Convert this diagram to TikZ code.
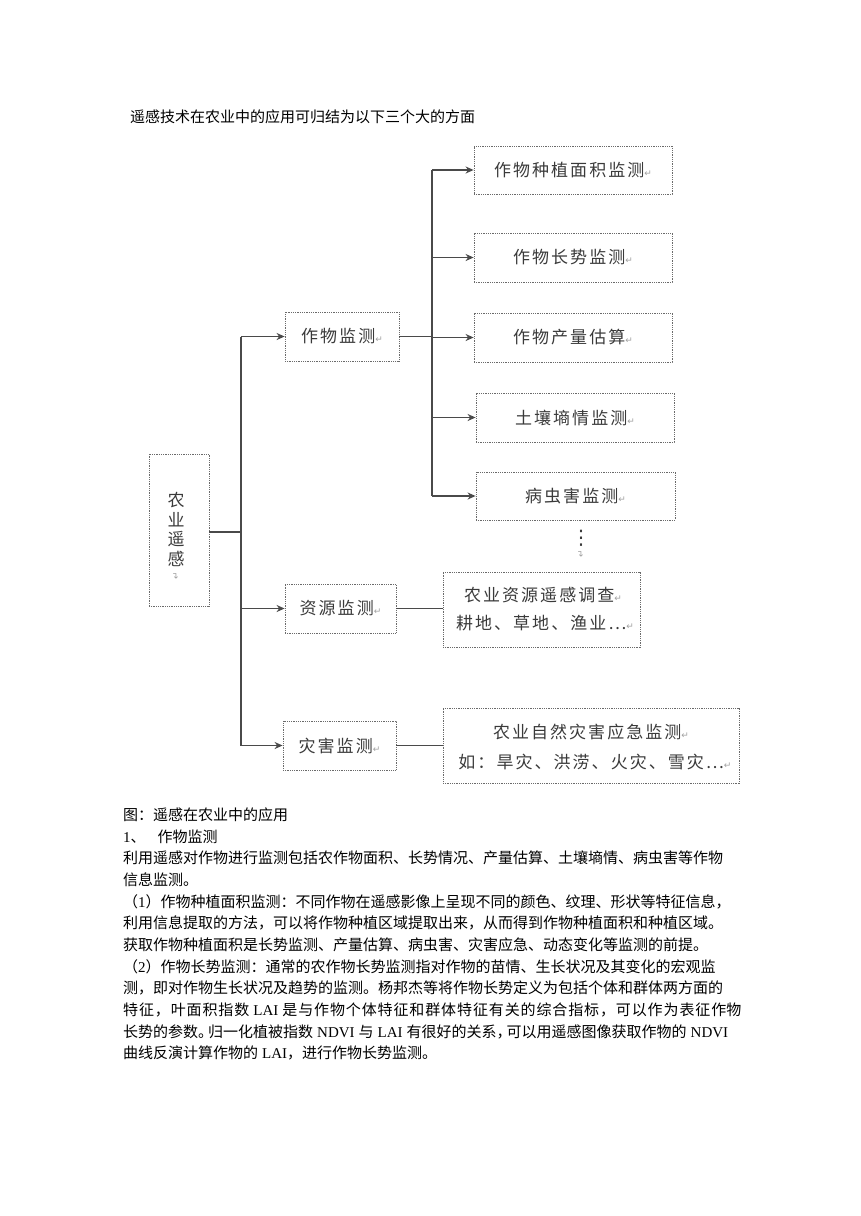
\documentclass[tikz,border=0pt]{standalone}
\usepackage{fontspec}
\setmainfont{Liberation Serif}
\newfontfamily\cjk{Noto Sans CJK SC}
\newfontfamily\cjkbox[LetterSpace=12]{Noto Sans CJK SC}
\newfontfamily\cjkwide[LetterSpace=5.9]{Noto Sans CJK SC}
\newfontfamily\dv{DejaVu Sans}
\usetikzlibrary{arrows.meta}
\definecolor{linegray}{HTML}{4A4A4A}
\definecolor{boxgray}{HTML}{6A6A6A}
\definecolor{txtgray}{HTML}{3A3A3A}
\definecolor{markgray}{HTML}{A0A0A0}
\newcommand\retmark{{\dv\fontsize{9}{9}\selectfont\textcolor{markgray}{↵}}}
\newcommand\en[1]{{\rmfamily #1}}
\newcommand\enw[1]{\hspace{4pt}{\rmfamily #1}\hspace{4pt}}
\newcommand\boxfont{\cjkbox\fontsize{17}{17}\selectfont}
\newcommand\bodyfont{\cjk\fontsize{15}{15}\selectfont}
\newcommand\jl[1]{\hbox to 605pt{#1}}
\begin{document}
\begin{tikzpicture}[x=1pt,y=-1pt,
  box/.style={draw=boxgray, dash pattern=on 0.9pt off 0.9pt, line width=0.8pt, inner sep=0pt, text=txtgray, font=\boxfont},
  conn/.style={draw=linegray, line width=1.4pt},
  arr/.style={conn, -{Stealth[length=8pt,width=7pt,inset=2.5pt]}},
  lbl/.style={inner sep=0pt, text=txtgray, font=\boxfont},
  body/.style={anchor=base west, inner sep=0pt, font=\bodyfont, text=black}
]
\useasboundingbox (0,0) rectangle (860,1216);

% heading
\node[body] (head) at (130,122.7) {遥感技术在农业中的应用可归结为以下三个大的方面};

% boxes
\node[box, minimum width=60, minimum height=152] (root) at (179,530) {};
\node[lbl] (r1c) at (176,500) {农};
\node[lbl] (r2c) at (176,519.5) {业};
\node[lbl] (r3c) at (176,539) {遥};
\node[lbl] (r4c) at (176,558.5) {感};
\node[lbl, rotate=90] (r5c) at (176,576) {\retmark};

\node[box, minimum width=114, minimum height=49] (crop) at (342,336.5) {作物监测\retmark};
\node[box, minimum width=111, minimum height=49] (res) at (340.5,608.5) {资源监测\retmark};
\node[box, minimum width=113, minimum height=49] (dis) at (339.5,745.5) {灾害监测\retmark};

\node[box, minimum width=198, minimum height=48] (b1) at (573,170) {作物种植面积监测\retmark};
\node[box, minimum width=198, minimum height=49] (b2) at (573,257.5) {作物长势监测\retmark};
\node[box, minimum width=198, minimum height=49] (b3) at (573,337.5) {作物产量估算\retmark};
\node[box, minimum width=198, minimum height=49] (b4) at (575,417.5) {土壤墒情监测\retmark};
\node[box, minimum width=199, minimum height=48] (b5) at (575.5,496) {病虫害监测\retmark};

\node[inner sep=0pt, text=txtgray, font=\dv\fontsize{20}{20}\selectfont] (dots) at (581,538) {⋮};
\node[lbl, rotate=90] (dmark) at (581,554) {\retmark};

\node[box, minimum width=197, minimum height=75] (rr1) at (541.5,609.5) {};
\node[lbl] (rr1a) at (543,595) {农业资源遥感调查\retmark};
\node[lbl] (rr1b) at (545,623) {耕地、草地、渔业…\retmark};

\node[box, minimum width=296, minimum height=75] (rr2) at (591,745.5) {};
\node[lbl] (rr2a) at (591,731.7) {农业自然灾害应急监测\retmark};
\node[lbl] (rr2b) at (595,761.7) {如：旱灾、洪涝、火灾、雪灾…\retmark};

% connectors
\coordinate (j1) at (241,532);
\coordinate (jt) at (241,336.5);
\coordinate (jb) at (241,745.5);
\coordinate (vt) at (432,170);
\coordinate (vb) at (432,496);
\draw[conn] (root.east |- j1) -- (j1);
\draw[conn] (jt) -- (jb);
\draw[arr] (jt) -- (crop.west);
\draw[arr] (res.west -| jt) -- (res.west);
\draw[arr] (jb) -- (dis.west);
\draw[conn] (crop.east) -- (crop.east -| vt);
\draw[conn] (vt) -- (vb);
\foreach \b in {b1,b2,b3,b4,b5}{
  \draw[arr] (\b.west -| vt) -- (\b.west);
}
\draw[conn] (res.east) -- (res.east -| rr1.west);
\draw[conn] (dis.east) -- (dis.east -| rr2.west);

% body text
\node[body] (t1) at (123,820.5) {图：遥感在农业中的应用};
\node[body] (t2) at (123,842.2) {\en{1}、\hspace{12pt}作物监测};
\node[body] (t3) at (123,863.8) {\jl{利用遥感对作物进行监测包括农作物面积、长势情况、产量估算、土壤墒情、病虫害等作物}};
\node[body] (t4) at (123,885.5) {信息监测。};
\node[body] (t5) at (123,907.2) {\jl{（\en{1}）作物种植面积监测：不同作物在遥感影像上呈现不同的颜色、纹理、形状等特征信息，}};
\node[body] (t6) at (123,928.8) {\jl{利用信息提取的方法，可以将作物种植区域提取出来，从而得到作物种植面积和种植区域。}};
\node[body] (t7) at (123,950.5) {获取作物种植面积是长势监测、产量估算、病虫害、灾害应急、动态变化等监测的前提。};
\node[body] (t8) at (123,972.2) {\jl{（\en{2}）作物长势监测：通常的农作物长势监测指对作物的苗情、生长状况及其变化的宏观监}};
\node[body] (t9) at (123,993.8) {\jl{测，即对作物生长状况及趋势的监测。杨邦杰等将作物长势定义为包括个体和群体两方面的}};
\node[body] (t10) at (123,1015.5) {\jl{\cjkwide 特征，叶面积指数\enw{LAI}是与作物个体特征和群体特征有关的综合指标，可以作为表征作\cjk 物\hfil}};
\node[body] (t11) at (123,1037.2) {\jl{长势的参数。\hspace{-5pt}归一化植被指数\enw{NDVI}与\enw{LAI}有很好的关系，\hspace{-5pt}可以用遥感图像获取作物的\hspace{4pt}\en{NDVI}\hss}};
\node[body] (t12) at (123,1058.8) {曲线反演计算作物的\enw{LAI}\hspace{-4pt}，进行作物长势监测。};
\end{tikzpicture}
\end{document}
